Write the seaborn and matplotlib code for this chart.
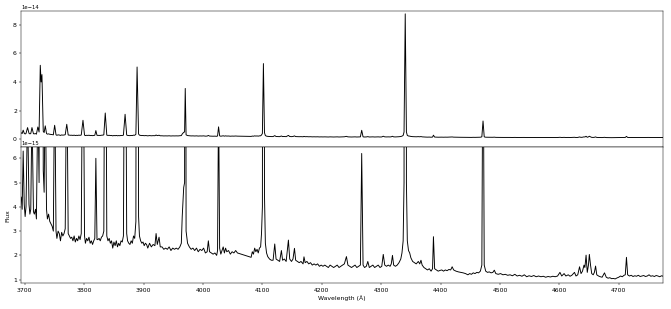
import matplotlib
matplotlib.use("Agg")
import matplotlib.pyplot as plt
from matplotlib.ticker import MultipleLocator
import numpy as np
import seaborn as sns

# spectrum, wavelength in Angstrom, flux in units of 1e-15
wave = [
    3694, 3695.5, 3697.2, 3699, 3700.5, 3702, 3704.6, 3707, 3708.5, 3710,
    3712.0, 3714.5, 3716, 3718, 3719.5, 3721.9, 3724, 3726.0, 3727.4, 3728.8,
    3731, 3732.5, 3734.4, 3736.5, 3738, 3740, 3742, 3744, 3746, 3748,
    3750.2, 3752.5, 3754, 3756, 3758, 3760, 3762, 3764, 3766, 3768,
    3770.6, 3773, 3775, 3777, 3779, 3781, 3783, 3785, 3787, 3789,
    3791, 3793, 3795, 3797.9, 3800.5, 3802, 3804, 3806, 3808, 3810,
    3812, 3814, 3816, 3817.8, 3819.6, 3821.5, 3823, 3825, 3827, 3829,
    3831, 3833, 3835.4, 3838, 3840, 3842, 3844, 3846, 3848, 3850,
    3852, 3854, 3856, 3858, 3860, 3862, 3864, 3866, 3868.8, 3871.5,
    3873, 3875, 3877, 3879, 3881, 3883, 3885, 3887, 3889.0, 3891.5,
    3893, 3895, 3897, 3899, 3901, 3903, 3905, 3907, 3910, 3913,
    3916, 3919, 3921, 3923, 3926, 3928, 3931, 3934, 3937, 3940,
    3943, 3946, 3949, 3952, 3955, 3958, 3961, 3963.5, 3965, 3967.5,
    3969, 3970.1, 3971.5, 3974, 3977, 3980, 3983, 3986, 3989, 3992,
    3995, 3998, 4001, 4004, 4007, 4009, 4011, 4014, 4017, 4020,
    4023, 4024.5, 4026.2, 4028, 4030, 4032, 4034, 4036, 4038, 4040,
    4043, 4046, 4049, 4052, 4055, 4058, 4081, 4083, 4085, 4087,
    4089, 4091, 4093, 4095, 4097, 4098.5, 4100, 4101.7, 4103.5, 4105,
    4107, 4109, 4112, 4115, 4118, 4120.8, 4123, 4126, 4129, 4132,
    4134, 4137, 4140, 4143.8, 4146, 4149, 4151.5, 4154, 4156, 4159,
    4162, 4165, 4168.5, 4170, 4172, 4175, 4178, 4181, 4184, 4187,
    4190, 4193, 4196, 4199, 4202, 4205, 4208, 4211, 4214, 4217,
    4220, 4223, 4226, 4229, 4232, 4235, 4238, 4241.5, 4244, 4247,
    4250, 4253, 4256, 4259, 4262, 4265, 4267.2, 4269.5, 4272, 4275,
    4277.5, 4280, 4283, 4286, 4289, 4292, 4295, 4298, 4301, 4303.5,
    4306, 4309, 4312, 4315, 4317, 4319, 4321, 4324, 4327, 4330,
    4333, 4335, 4337, 4338.5, 4340.5, 4342.5, 4344, 4346, 4348, 4350,
    4353, 4356, 4359, 4362.5, 4365, 4367, 4369, 4372, 4375, 4378,
    4381, 4384, 4386.5, 4388, 4390, 4393, 4396, 4399, 4402, 4405,
    4408, 4411, 4414, 4417, 4419.5, 4422, 4426, 4430, 4434, 4438,
    4442, 4446, 4449, 4452, 4455, 4458, 4461, 4464, 4467, 4469.5,
    4471.5, 4473.5, 4476, 4479, 4482, 4485, 4488, 4490.5, 4493, 4497,
    4501, 4505, 4509, 4513, 4517, 4521, 4525, 4529, 4533, 4537,
    4541, 4545, 4549, 4553, 4557, 4561, 4565, 4569, 4573, 4577,
    4581, 4585, 4589, 4593, 4597, 4601, 4604, 4608, 4611, 4615,
    4618, 4621, 4625.5, 4628, 4631, 4634, 4636.5, 4639, 4641.5, 4643,
    4645, 4647, 4649, 4650.5, 4652.5, 4654.5, 4657, 4659, 4661, 4663,
    4666, 4669, 4672, 4676, 4679, 4682, 4685, 4688, 4691, 4694,
    4697, 4700, 4703, 4706, 4709, 4711, 4713, 4715, 4718, 4721,
    4724, 4727, 4730, 4733, 4736, 4739, 4742, 4745, 4748, 4751,
    4754, 4757, 4760, 4763, 4766, 4769, 4772, 4775,
]
flux = [
    4.4, 3.9, 6.3, 4.1, 3.6, 4.0, 8.1, 4.1, 3.7, 3.9,
    8.1, 3.8, 3.7, 3.9, 3.5, 8.5, 5.0, 51.7, 40.0, 45.2,
    5.5, 4.6, 9.3, 3.9, 3.5, 3.7, 3.4, 3.3, 3.2, 3.0,
    9.7, 3.0, 2.7, 3.0, 2.9, 2.6, 2.95, 2.8, 2.9, 3.1,
    10.4, 2.9, 2.8, 2.7, 2.75, 2.6, 2.8, 2.55, 2.7, 2.6,
    2.8, 2.65, 2.9, 13.2, 2.8, 2.5, 2.7, 2.6, 2.75, 2.5,
    2.6, 2.45, 2.6, 2.7, 6.0, 2.65, 2.65, 2.7, 2.6, 2.75,
    2.8, 3.0, 18.3, 2.8, 2.6, 2.7, 2.5, 2.6, 2.3, 2.55,
    2.4, 2.6, 2.35, 2.5, 2.4, 2.6, 2.55, 2.8, 17.4, 2.9,
    2.6, 2.5, 2.45, 2.6, 2.5, 2.8, 2.7, 3.4, 50.5, 3.6,
    2.8, 2.6, 2.5, 2.55, 2.4, 2.5, 2.45, 2.3, 2.5, 2.35,
    2.45, 2.4, 2.9, 2.45, 2.75, 2.35, 2.35, 2.25, 2.3, 2.25,
    2.35, 2.2, 2.3, 2.25, 2.3, 2.25, 2.35, 2.5, 3.6, 4.8,
    5.0, 35.5, 3.0, 2.5, 2.35, 2.25, 2.3, 2.2, 2.3, 2.15,
    2.25, 2.2, 2.3, 2.1, 2.15, 2.6, 2.15, 2.1, 2.05, 2.1,
    2.0, 2.2, 8.6, 2.3, 2.05, 2.2, 2.35, 2.1, 2.3, 2.15,
    2.2, 2.05, 2.15, 2.1, 2.2, 2.1, 1.92, 2.15, 2.05, 2.3,
    2.15, 2.25, 2.1, 2.3, 2.35, 2.9, 4.0, 52.9, 4.5, 2.5,
    2.1, 1.95, 1.85, 1.8, 1.8, 2.47, 1.85, 1.8, 1.75, 2.2,
    1.8, 1.85, 1.75, 2.63, 1.85, 1.75, 1.85, 2.29, 1.8, 1.75,
    1.7, 1.75, 1.65, 1.94, 1.7, 1.75, 1.65, 1.7, 1.6, 1.65,
    1.6, 1.65, 1.55, 1.6, 1.55, 1.6, 1.55, 1.5, 1.6, 1.55,
    1.5, 1.55, 1.6, 1.5, 1.55, 1.6, 1.65, 1.95, 1.6, 1.55,
    1.5, 1.55, 1.6, 1.5, 1.55, 1.6, 6.2, 1.6, 1.5, 1.55,
    1.75, 1.5, 1.55, 1.6, 1.5, 1.55, 1.6, 1.5, 1.55, 2.04,
    1.6, 1.55, 1.6, 1.55, 1.65, 2.0, 1.6, 1.55, 1.6, 1.7,
    1.85, 2.1, 2.6, 5.0, 87.7, 5.0, 2.6, 2.2, 2.1, 1.9,
    1.75, 1.7, 1.65, 1.75, 1.65, 1.8, 1.6, 1.5, 1.45, 1.4,
    1.45, 1.35, 1.45, 2.77, 1.45, 1.4, 1.35, 1.38, 1.4, 1.35,
    1.4, 1.37, 1.42, 1.4, 1.53, 1.4, 1.35, 1.32, 1.3, 1.28,
    1.25, 1.2, 1.25, 1.22, 1.28, 1.25, 1.3, 1.28, 1.35, 1.6,
    12.7, 1.6, 1.35, 1.3, 1.32, 1.28, 1.3, 1.39, 1.25, 1.22,
    1.25, 1.2, 1.22, 1.18, 1.2, 1.16, 1.22, 1.15, 1.18, 1.14,
    1.2, 1.12, 1.16, 1.13, 1.17, 1.12, 1.15, 1.12, 1.14, 1.1,
    1.13, 1.11, 1.14, 1.12, 1.15, 1.3, 1.15, 1.25, 1.15, 1.2,
    1.14, 1.18, 1.3, 1.15, 1.2, 1.53, 1.25, 1.35, 1.6, 1.5,
    2.01, 1.3, 1.6, 2.04, 1.6, 1.25, 1.2, 1.3, 1.56, 1.2,
    1.15, 1.12, 1.1, 1.28, 1.1, 1.06, 1.08, 1.04, 1.05, 1.03,
    1.07, 1.1, 1.15, 1.12, 1.18, 1.2, 1.92, 1.2, 1.15, 1.18,
    1.13, 1.16, 1.14, 1.18, 1.13, 1.15, 1.17, 1.13, 1.15, 1.2,
    1.14, 1.16, 1.13, 1.17, 1.15, 1.12, 1.16, 1.14,
]
assert len(wave) == len(flux)
flux_cgs = np.array(flux) * 1e-15

dpi = 44.5
fig, (ax1, ax2) = plt.subplots(2, 1, sharex=True, figsize=(671 / dpi, 309 / dpi), dpi=dpi)
fig.subplots_adjust(left=0.0317, right=0.9885, top=0.9644, bottom=0.0832, hspace=0)

# full range on top, zoom on the continuum below
sns.lineplot(x=wave, y=flux_cgs, ax=ax1, color='black', linewidth=1.5)
sns.lineplot(x=wave, y=flux_cgs, ax=ax2, color='black', linewidth=1.5)

ax1.set_ylim(-0.56e-14, 8.97e-14)
ax2.set_ylim(0.85e-15, 6.46e-15)
ax2.set_xlim(3694, 4775)
ax2.xaxis.set_major_locator(MultipleLocator(100))

for ax in (ax1, ax2):
    ax.tick_params(labelsize=10)
    ax.yaxis.get_offset_text().set_fontsize(8.5)

ax2.set_xlabel('Wavelength (Å)', fontsize=10)
ax2.set_ylabel('Flux', fontsize=10)

plt.savefig('out.png', dpi=dpi)
